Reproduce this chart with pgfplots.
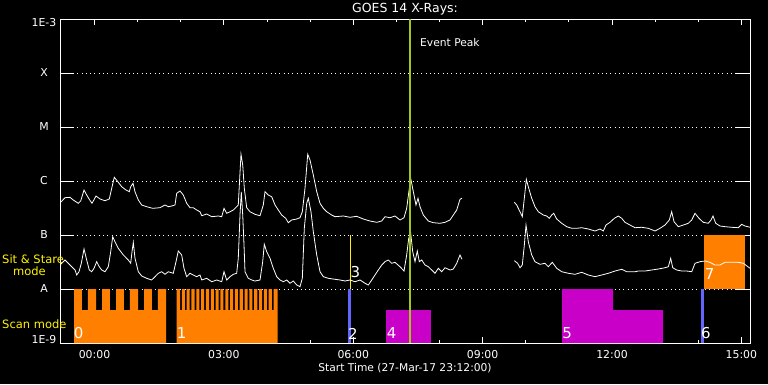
\documentclass[border=0pt]{standalone}
\usepackage{pgfplots}
\pgfplotsset{compat=1.18}
\usepackage{fontspec}
\setmainfont{DejaVu Sans}
\definecolor{scanorange}{RGB}{255,128,0}
\definecolor{scanmag}{RGB}{200,0,200}
\definecolor{blueline}{RGB}{100,100,255}
\definecolor{peakgreen}{RGB}{160,200,20}
\begin{document}
\begin{tikzpicture}[x=1pt,y=1pt]
\fill[black] (0,0) rectangle (768,384);
\begin{axis}[
  at={(60pt,41pt)}, anchor=south west,
  scale only axis, width=690pt, height=324pt,
  xmin=-0.8, xmax=15.2, ymin=-9, ymax=-3,
  axis line style={white, line width=0.8pt},
  tick style={white, line width=0.8pt},
  xtick={0,3,6,9,12,15},
  xticklabels={00:00,03:00,06:00,09:00,12:00,15:00},
  minor x tick num=2,
  xtick style={/pgfplots/major tick length=6pt,/pgfplots/minor tick length=3pt},
  ytick={-9,-8,-7,-6,-5,-4,-3},
  yticklabels={\raisebox{3.9pt}{1E-9},A,B,C,M,X,\raisebox{-3.8pt}{1E-3}},
  ytick style={/pgfplots/major tick length=14pt},
  ymajorgrids=true,
  major grid style={white, line width=0.8pt, dash pattern=on 0.8pt off 3.5pt},
  tick label style={white, font=\fontsize{10.9}{12}\selectfont},
  xticklabel style={anchor=center, yshift=-11.7pt},
  yticklabel style={anchor=base, xshift=-16pt, yshift=-3.9pt},
  title={GOES 14 X-Rays:},
  title style={white, font=\fontsize{12.5}{13}\selectfont, at={(axis description cs:0.5,1.0123)}, anchor=center},
  xlabel={Start Time (27-Mar-17 23:12:00)},
  xlabel style={white, font=\fontsize{10.7}{12}\selectfont, at={(axis description cs:0.5,-0.0772)}, anchor=center},
  clip=true,
]
% scan mode / sit & stare blocks
\addplot[fill=scanorange, draw=none] coordinates {
(-0.475,-9) (-0.475,-8) (-0.290,-8) (-0.290,-8.389) (-0.151,-8.389) (-0.151,-8)
(0.035,-8) (0.035,-8.389) (0.174,-8.389) (0.174,-8) (0.359,-8) (0.359,-8.389)
(0.499,-8.389) (0.499,-8) (0.684,-8) (0.684,-8.389) (0.823,-8.389) (0.823,-8)
(1.009,-8) (1.009,-8.389) (1.148,-8.389) (1.148,-8) (1.333,-8) (1.333,-8.389)
(1.472,-8.389) (1.472,-8) (1.658,-8) (1.658,-9)} --cycle;
\addplot[fill=scanorange, draw=none] coordinates {
(1.906,-9) (1.906,-8)
(1.983,-8) (1.983,-8.389) (2.024,-8.389) (2.024,-8)
(2.095,-8) (2.095,-8.389) (2.136,-8.389) (2.136,-8)
(2.207,-8) (2.207,-8.389) (2.248,-8.389) (2.248,-8)
(2.319,-8) (2.319,-8.389) (2.360,-8.389) (2.360,-8)
(2.431,-8) (2.431,-8.389) (2.472,-8.389) (2.472,-8)
(2.543,-8) (2.543,-8.389) (2.584,-8.389) (2.584,-8)
(2.655,-8) (2.655,-8.389) (2.696,-8.389) (2.696,-8)
(2.767,-8) (2.767,-8.389) (2.808,-8.389) (2.808,-8)
(2.879,-8) (2.879,-8.389) (2.920,-8.389) (2.920,-8)
(2.991,-8) (2.991,-8.389) (3.032,-8.389) (3.032,-8)
(3.103,-8) (3.103,-8.389) (3.144,-8.389) (3.144,-8)
(3.215,-8) (3.215,-8.389) (3.256,-8.389) (3.256,-8)
(3.327,-8) (3.327,-8.389) (3.368,-8.389) (3.368,-8)
(3.439,-8) (3.439,-8.389) (3.480,-8.389) (3.480,-8)
(3.551,-8) (3.551,-8.389) (3.592,-8.389) (3.592,-8)
(3.663,-8) (3.663,-8.389) (3.704,-8.389) (3.704,-8)
(3.775,-8) (3.775,-8.389) (3.816,-8.389) (3.816,-8)
(3.887,-8) (3.887,-8.389) (3.928,-8.389) (3.928,-8)
(3.999,-8) (3.999,-8.389) (4.040,-8.389) (4.040,-8)
(4.111,-8) (4.111,-8.389) (4.152,-8.389) (4.152,-8)
(4.248,-8) (4.248,-9)} --cycle;
\addplot[fill=scanmag, draw=none] coordinates {(6.759,-9) (6.759,-8.389) (7.803,-8.389) (7.803,-9)} --cycle;
\addplot[fill=scanmag, draw=none] coordinates {(10.841,-9) (10.841,-8) (12.023,-8) (12.023,-8.389) (13.183,-8.389) (13.183,-9)} --cycle;
\addplot[fill=blueline, draw=none] coordinates {(5.871,-9) (5.871,-8) (5.941,-8) (5.941,-9)} --cycle;
\addplot[fill=blueline, draw=none] coordinates {(14.064,-9) (14.064,-8) (14.126,-8) (14.126,-9)} --cycle;
\addplot[fill=scanorange, draw=none] coordinates {(14.133,-8) (14.133,-7) (15.084,-7) (15.084,-8)} --cycle;
\addplot[yellow, line width=1pt] coordinates {(5.925,-7) (5.925,-8)};
% long channel (upper)
\addplot[white, line width=0.8pt] coordinates {
(-0.800,-6.407) (-0.684,-6.309) (-0.568,-6.302) (-0.492,-6.352) (-0.376,-6.413) (-0.320,-6.370)
(-0.243,-6.167) (-0.181,-6.259) (-0.121,-6.339) (-0.058,-6.413) (0.035,-6.278) (0.128,-6.333)
(0.243,-6.365) (0.343,-6.333) (0.399,-6.135) (0.459,-5.931) (0.552,-6.024) (0.631,-6.106)
(0.730,-6.167) (0.807,-6.198) (0.839,-6.106) (0.893,-6.043) (0.939,-6.198) (1.016,-6.352)
(1.094,-6.444) (1.210,-6.476) (1.350,-6.506) (1.519,-6.494) (1.635,-6.444) (1.711,-6.476)
(1.790,-6.463) (1.867,-6.444) (1.906,-6.228) (1.983,-6.185) (2.059,-6.259) (2.138,-6.413)
(2.214,-6.494) (2.291,-6.494) (2.370,-6.537) (2.446,-6.569) (2.486,-6.643) (2.602,-6.611)
(2.718,-6.661) (2.871,-6.648) (2.950,-6.661) (3.003,-6.506) (3.066,-6.598) (3.142,-6.569)
(3.219,-6.537) (3.297,-6.476) (3.334,-6.444) (3.367,-5.950) (3.397,-5.506) (3.437,-5.704)
(3.474,-6.135) (3.529,-6.494) (3.606,-6.569) (3.722,-6.617) (3.838,-6.643) (3.914,-6.444)
(3.954,-6.198) (4.030,-6.259) (4.109,-6.291) (4.186,-6.444) (4.262,-6.537) (4.341,-6.630)
(4.434,-6.691) (4.494,-6.772) (4.573,-6.722) (4.689,-6.704) (4.765,-6.680) (4.819,-6.569)
(4.881,-6.135) (4.944,-5.506) (4.997,-5.611) (5.074,-5.889) (5.153,-6.198) (5.229,-6.413)
(5.306,-6.506) (5.384,-6.569) (5.500,-6.630) (5.577,-6.661) (5.770,-6.648) (5.925,-6.672)
(6.080,-6.654) (6.233,-6.704) (6.388,-6.741) (6.544,-6.765) (6.660,-6.741) (6.736,-6.661)
(6.852,-6.680) (6.968,-6.648) (7.084,-6.722) (7.177,-6.680) (7.239,-6.506) (7.300,-6.135)
(7.332,-5.950) (7.393,-6.198) (7.455,-6.444) (7.501,-6.320) (7.548,-6.476) (7.624,-6.630)
(7.740,-6.741) (7.856,-6.772) (8.012,-6.783) (8.128,-6.765) (8.243,-6.722) (8.320,-6.630)
(8.399,-6.537) (8.475,-6.339) (8.522,-6.320)};
\addplot[white, line width=0.8pt] coordinates {
(9.735,-6.394) (9.790,-6.444) (9.867,-6.569) (9.920,-6.661) (9.967,-6.320) (10.013,-5.969)
(10.059,-6.106) (10.138,-6.320) (10.214,-6.476) (10.291,-6.569) (10.407,-6.630) (10.486,-6.648)
(10.546,-6.691) (10.602,-6.630) (10.648,-6.598) (10.718,-6.704) (10.834,-6.783) (10.950,-6.846)
(11.066,-6.876) (11.182,-6.876) (11.297,-6.865) (11.451,-6.889) (11.606,-6.926) (11.722,-6.889)
(11.798,-6.926) (11.861,-6.815) (11.954,-6.765) (12.054,-6.691) (12.146,-6.648) (12.225,-6.691)
(12.301,-6.765) (12.417,-6.815) (12.533,-6.865) (12.689,-6.857) (12.842,-6.876) (12.997,-6.926)
(13.113,-6.876) (13.229,-6.815) (13.329,-6.722) (13.384,-6.569) (13.438,-6.754) (13.538,-6.846)
(13.654,-6.815) (13.770,-6.783) (13.848,-6.722) (13.925,-6.598) (14.017,-6.691) (14.117,-6.765)
(14.233,-6.783) (14.296,-6.722) (14.342,-6.648) (14.405,-6.783) (14.504,-6.833) (14.620,-6.846)
(14.776,-6.857) (14.929,-6.865) (15.008,-6.802) (15.084,-6.833) (15.200,-6.857)};
% short channel (lower)
\addplot[white, line width=0.8pt] coordinates {
(-0.800,-7.556) (-0.684,-7.463) (-0.607,-7.524) (-0.529,-7.587) (-0.452,-7.648) (-0.413,-7.741)
(-0.359,-7.680) (-0.306,-7.524) (-0.243,-7.259) (-0.181,-7.463) (-0.121,-7.648) (-0.065,-7.680)
(-0.012,-7.617) (0.051,-7.494) (0.111,-7.587) (0.167,-7.648) (0.243,-7.680) (0.320,-7.587)
(0.376,-7.309) (0.422,-7.031) (0.475,-7.124) (0.552,-7.246) (0.668,-7.370) (0.784,-7.463)
(0.839,-7.524) (0.870,-7.309) (0.900,-7.135) (0.939,-7.431) (1.016,-7.680) (1.094,-7.759)
(1.210,-7.802) (1.326,-7.833) (1.403,-7.772) (1.480,-7.709) (1.558,-7.680) (1.635,-7.728)
(1.711,-7.680) (1.827,-7.709) (1.890,-7.494) (1.943,-7.296) (2.022,-7.370) (2.075,-7.617)
(2.138,-7.772) (2.214,-7.709) (2.291,-7.741) (2.370,-7.772) (2.446,-7.741) (2.486,-7.833)
(2.602,-7.802) (2.718,-7.865) (2.834,-7.833) (2.950,-7.865) (3.003,-7.680) (3.066,-7.833)
(3.142,-7.772) (3.219,-7.728) (3.297,-7.709) (3.334,-7.431) (3.374,-6.630) (3.404,-6.204)
(3.437,-6.630) (3.467,-7.185) (3.490,-7.680) (3.567,-7.802) (3.645,-7.833) (3.722,-7.852)
(3.838,-7.833) (3.900,-7.494) (3.937,-7.172) (3.993,-7.309) (4.070,-7.431) (4.146,-7.617)
(4.225,-7.772) (4.301,-7.833) (4.378,-7.865) (4.457,-7.833) (4.533,-7.894) (4.610,-7.852)
(4.689,-7.926) (4.765,-7.957) (4.819,-7.802) (4.865,-6.876) (4.921,-6.413) (4.958,-6.320)
(5.020,-6.569) (5.074,-6.939) (5.153,-7.370) (5.229,-7.680) (5.306,-7.772) (5.421,-7.802)
(5.577,-7.820) (5.693,-7.833) (5.809,-7.852) (5.925,-7.833) (6.041,-7.865) (6.157,-7.833)
(6.272,-7.894) (6.349,-7.926) (6.428,-7.833) (6.504,-7.741) (6.581,-7.648) (6.660,-7.556)
(6.736,-7.494) (6.813,-7.463) (6.892,-7.524) (6.968,-7.506) (7.084,-7.587) (7.177,-7.667)
(7.239,-7.370) (7.286,-7.061) (7.332,-6.969) (7.379,-7.309) (7.432,-7.494) (7.485,-7.296)
(7.532,-7.494) (7.587,-7.463) (7.664,-7.556) (7.740,-7.587) (7.819,-7.648) (7.896,-7.709)
(7.972,-7.617) (8.051,-7.680) (8.128,-7.606) (8.243,-7.648) (8.320,-7.630) (8.399,-7.524)
(8.475,-7.370) (8.522,-7.450)};
\addplot[white, line width=0.8pt] coordinates {
(9.735,-7.476) (9.812,-7.524) (9.867,-7.606) (9.920,-7.556) (9.967,-7.185) (10.006,-6.815)
(10.059,-7.124) (10.138,-7.370) (10.214,-7.494) (10.330,-7.543) (10.446,-7.524) (10.523,-7.587)
(10.616,-7.506) (10.718,-7.617) (10.834,-7.680) (10.988,-7.709) (11.142,-7.728) (11.297,-7.691)
(11.451,-7.741) (11.606,-7.772) (11.761,-7.741) (11.914,-7.709) (12.070,-7.667) (12.225,-7.635)
(12.341,-7.680) (12.533,-7.680) (12.610,-7.667) (12.765,-7.667) (12.920,-7.648) (13.073,-7.630)
(13.229,-7.606) (13.306,-7.587) (13.361,-7.431) (13.408,-7.606) (13.500,-7.648) (13.616,-7.667)
(13.732,-7.667) (13.848,-7.680) (13.925,-7.524) (14.041,-7.494) (14.157,-7.481) (14.272,-7.506)
(14.388,-7.556) (14.504,-7.556) (14.620,-7.506) (14.776,-7.506) (14.929,-7.506) (15.046,-7.524)
(15.200,-7.617)};
% event peak
\addplot[peakgreen, line width=2.2pt] coordinates {(7.316,-9) (7.316,-3)};
% labels
\begin{scope}[every node/.style={white, font=\fontsize{15}{15}\selectfont, inner sep=0pt}]
\node at (axis cs:-0.37,-8.81) {0};
\node at (axis cs:2.02,-8.81) {1};
\node at (axis cs:5.994,-8.83) {2};
\node at (axis cs:6.052,-7.68) {3};
\node at (axis cs:6.892,-8.82) {4};
\node at (axis cs:10.957,-8.82) {5};
\node at (axis cs:14.175,-8.82) {6};
\node at (axis cs:14.265,-7.72) {7};
\end{scope}
\node[white, anchor=west, inner sep=0pt, font=\fontsize{10.7}{12}\selectfont] at (axis cs:7.548,-3.444) {Event Peak};
\end{axis}
\begin{scope}[every node/.style={yellow, inner sep=0pt, anchor=base west, font=\fontsize{11.5}{12}\selectfont}]
\node at (2,121) {Sit \& Stare};
\node at (13,109) {mode};
\node at (2,55.7) {Scan mode};
\end{scope}
\pgfresetboundingbox
\path (0,0) rectangle (768,384);
\end{tikzpicture}
\end{document}
